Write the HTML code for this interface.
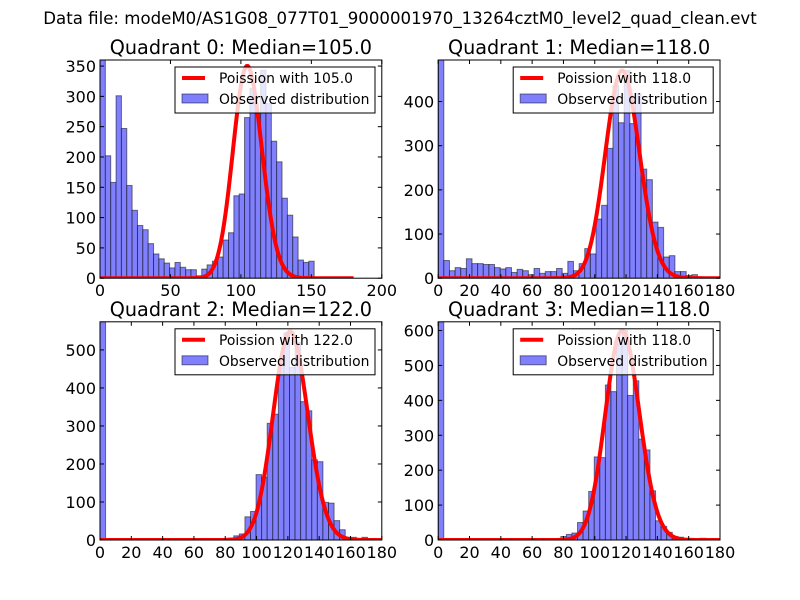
<!DOCTYPE html>
<html><head><meta charset="utf-8"><style>
body{margin:0;background:#fff;}
svg{display:block;font-family:"DejaVu Sans","Liberation Sans",sans-serif;}
</style></head><body>
<svg id="fig" width="800" height="600" viewBox="0 0 800 600">
<rect width="800" height="600" fill="#fff"/>
<text x="400" y="24" font-size="16.6" text-anchor="middle">Data file: modeM0/AS1G08_077T01_9000001970_13264cztM0_level2_quad_clean.evt</text>
</svg>
<script>
const q0Counts=[360,202,158,301,247,153,112,87,80,57,40,32,25,17,26,18,14,14,4,15,22,28,35,63,75,136,139,265,313,271,343,288,226,192,132,104,68,30,26,28];
const q1Counts=[494,40,17,24,22,44,33,33,31,31,24,21,24,13,20,17,8,22,11,15,15,22,11,38,17,33,67,55,134,165,294,436,352,470,350,418,247,223,127,115,48,51,15,15,6,8];
const q2Counts=[574,0,0,0,0,0,0,0,0,0,0,0,0,0,0,0,0,0,0,0,0,0,0,5,11,16,61,75,172,165,307,331,470,545,454,520,364,340,211,206,99,97,51,27,7,7,3,7,3,0];
const q3Counts=[625,0,0,0,0,0,0,0,0,0,0,0,0,0,0,0,0,0,0,0,0,0,10,16,20,50,83,139,238,236,444,425,561,600,414,456,289,258,141,55,39,22,10,8,3,2,3,5,0,0];
const binWidths=[3.8,3.6,3.56,3.56];
const medians=[105,118,122,118];
const peaks=[350,470,548,600];
const xMaxes=[200,180,180,180];
const yMaxes=[360,494,574,625];
const xTickLabels=[[0,50,100,150,200],[0,20,40,60,80,100,120,140,160,180],[0,20,40,60,80,100,120,140,160,180],[0,20,40,60,80,100,120,140,160,180]];
const yTickLabels=[[0,50,100,150,200,250,300,350],[0,100,200,300,400],[0,100,200,300,400,500],[0,100,200,300,400,500,600]];
const allCounts=[q0Counts,q1Counts,q2Counts,q3Counts];

const NS="http://www.w3.org/2000/svg";
const fig=document.getElementById('fig');
function mk(tag,attrs,parent){const e=document.createElementNS(NS,tag);for(const k in attrs)e.setAttribute(k,attrs[k]);(parent||fig).appendChild(e);return e;}
function logPois(k,lam){let lf=0;for(let i=2;i<=k;i++)lf+=Math.log(i);return k*Math.log(lam)-lam-lf;}

const W=281.8,H=218.2;
const origins=[[100,60],[438.2,60],[100,321.8],[438.2,321.8]];
for(let q=0;q<4;q++){
  const [ox,oy]=origins[q];
  const g=mk('g',{});
  
  
  const sx=v=>ox+v/xMaxes[q]*W;
  const sy=v=>oy+H-Math.min(v,yMaxes[q])/yMaxes[q]*H;
  const clipId='clip'+q;
  const cp=mk('clipPath',{id:clipId},g);mk('rect',{x:ox,y:oy,width:W,height:H},cp);
  const plot=mk('g',{'clip-path':'url(#'+clipId+')'},g);
  const counts=allCounts[q];
  counts.forEach((c,i)=>{
    if(c<=0)return;
    const x0=sx(i*binWidths[q]),x1=sx((i+1)*binWidths[q]);
    const r=mk('rect',{x:x0,y:sy(c),width:x1-x0,height:oy+H-sy(c),fill:'#8080ff',stroke:'#000','stroke-opacity':0.5,'stroke-width':1},plot);
    
    
  });
  const lam=medians[q];const peakLog=logPois(Math.floor(lam),lam);
  let d='';
  for(let k=0;k<=180;k++){const v=peaks[q]*Math.exp(logPois(k,lam)-peakLog);d+=(k?'L':'M')+sx(k).toFixed(2)+','+sy(v).toFixed(2);}
  const pl=mk('path',{d:d,fill:'none',stroke:'#ff0000','stroke-width':4,'stroke-linejoin':'round'},plot);
  
  
  mk('rect',{x:ox,y:oy,width:W,height:H,fill:'none',stroke:'#000','stroke-width':1},g);
  xTickLabels[q].forEach(t=>{
    const x=sx(t);
    mk('line',{x1:x,x2:x,y1:oy+H,y2:oy+H-4,stroke:'#000'},g);
    mk('line',{x1:x,x2:x,y1:oy,y2:oy+4,stroke:'#000'},g);
    const tx=mk('text',{x:x,y:oy+H+18,'font-size':16,'text-anchor':'middle'},g);tx.textContent=t;
    
    
  });
  yTickLabels[q].forEach(t=>{
    const y=sy(t);
    mk('line',{x1:ox,x2:ox+4,y1:y,y2:y,stroke:'#000'},g);
    mk('line',{x1:ox+W,x2:ox+W-4,y1:y,y2:y,stroke:'#000'},g);
    const tx=mk('text',{x:ox-4,y:y+6,'font-size':16,'text-anchor':'end'},g);tx.textContent=t;
    
    
  });
  const ti=mk('text',{x:ox+W/2,y:oy-6,'font-size':19.2,'text-anchor':'middle'},g);
  ti.textContent='Quadrant '+q+': Median='+medians[q].toFixed(1);
  
  
  const lg=mk('g',{},g);
  
  
  const lx=ox+75,ly=oy+7;
  mk('rect',{x:lx,y:ly,width:200,height:46,fill:'#fff','fill-opacity':0.8,stroke:'#000','stroke-width':1},lg);
  mk('line',{x1:lx+7,x2:lx+30,y1:ly+11,y2:ly+11,stroke:'#ff0000','stroke-width':4},lg);
  const t1=mk('text',{x:lx+44,y:ly+16,'font-size':13.9},lg);t1.textContent='Poission with '+medians[q].toFixed(1);
  
  
  mk('rect',{x:lx+7,y:ly+27,width:26,height:9,fill:'#8080ff',stroke:'#000','stroke-opacity':0.5},lg);
  const t2=mk('text',{x:lx+44,y:ly+37,'font-size':13.9},lg);t2.textContent='Observed distribution';
  
  
}
</script>
</body></html>
